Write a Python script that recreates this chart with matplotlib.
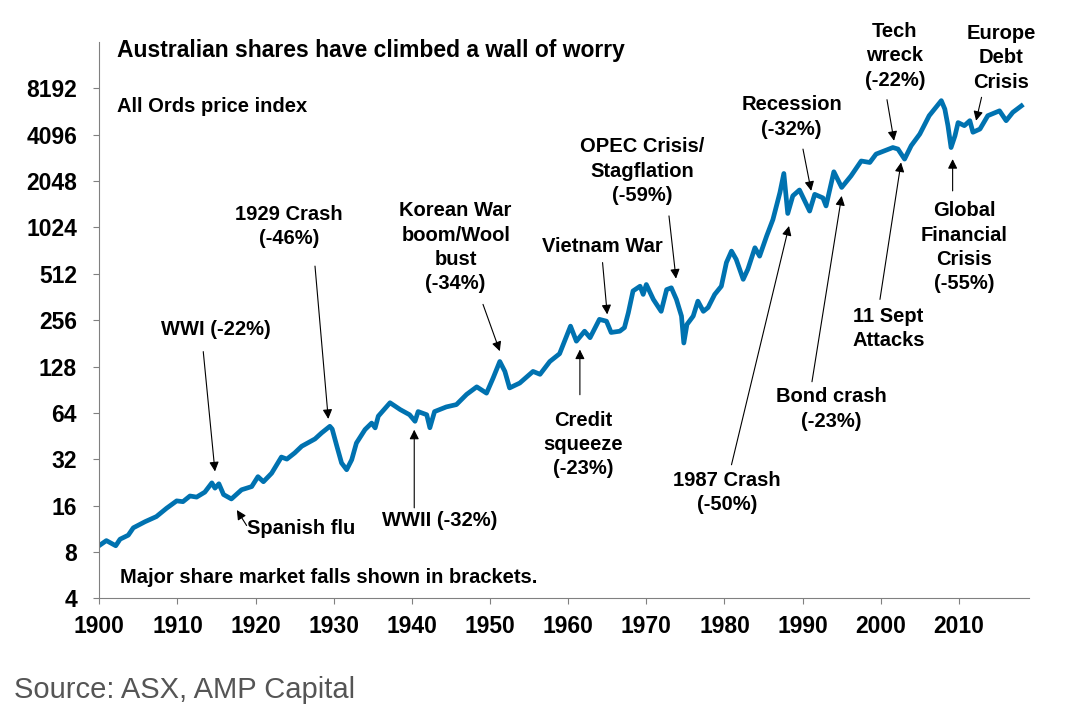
import matplotlib.pyplot as plt
import matplotlib.ticker as mticker

plt.rcParams['font.family'] = ['Liberation Sans', 'DejaVu Sans']
plt.rcParams['font.weight'] = 'bold'

# All Ords price index (year, index level)
years = [1900.1, 1900.9, 1902.1, 1902.65, 1903.7, 1904.35, 1905.85, 1907.3, 1908.6, 1909.9,
         1910.7, 1911.6, 1912.45, 1913.5, 1914.4, 1914.8, 1915.3, 1915.9, 1916.9, 1918.2,
         1919.5, 1920.3, 1921.0, 1922.05, 1923.3, 1924.0, 1925.0, 1925.9, 1927.6, 1928.45,
         1929.5, 1929.8, 1930.4, 1931.0, 1931.65, 1932.3, 1932.9, 1934.0, 1934.85, 1935.3,
         1935.7, 1937.2, 1938.5, 1939.7, 1940.4, 1940.8, 1941.9, 1942.3, 1942.9, 1944.4,
         1945.7, 1947.0, 1948.3, 1949.55, 1950.4, 1951.25, 1951.9, 1952.5, 1953.8, 1955.5,
         1956.4, 1957.65, 1958.9, 1960.3, 1961.05, 1962.1, 1962.8,
         1964.0, 1964.9, 1965.5, 1966.6, 1967.2, 1967.7, 1968.3, 1969.2, 1969.6, 1970.0,
         1970.9, 1971.9, 1972.6, 1973.2, 1973.85, 1974.5, 1974.8, 1975.2, 1976.0, 1976.6,
         1977.3, 1977.9, 1978.75, 1979.6, 1980.25, 1980.9, 1981.5, 1982.4, 1983.0, 1983.9,
         1984.5, 1985.4, 1986.2,
         1987.1, 1987.6, 1988.1, 1988.75, 1989.6, 1990.9, 1991.55, 1992.6, 1993.0, 1994.0,
         1995.0, 1996.2, 1997.5, 1998.6, 1999.4, 2000.5, 2001.55, 2002.2, 2003.05, 2003.9,
         2005.0, 2006.2, 2007.75, 2008.2, 2008.6, 2009.0, 2009.5, 2009.9, 2010.7, 2011.4,
         2011.8, 2012.7, 2013.7, 2015.2, 2016.05, 2016.9, 2018.0]
index = [8.9, 9.5, 8.8, 9.7, 10.3, 11.5, 12.6, 13.6, 15.4, 17.2,
         17.0, 18.5, 18.2, 19.6, 22.5, 20.8, 22.2, 18.9, 17.7, 20.3,
         21.3, 24.7, 22.9, 26.0, 33.1, 32.1, 35.2, 38.9, 43.4, 47.5,
         52.4, 50.3, 38.9, 30.3, 27.4, 31.8, 40.8, 49.9, 55.0, 51.2,
         61, 74.5, 67.3, 62.3, 56.5, 65.3, 62.3, 51.3, 65.3, 70,
         72.5, 84.4, 94.5, 86, 108, 138, 119, 93, 100, 119,
         114, 138, 155, 234, 187, 217, 197,
         259, 252, 213, 217, 229, 286, 396, 425, 376, 436,
         349, 292, 404, 415, 349, 272, 182, 240, 272, 340,
         292, 309, 376, 425, 605, 718, 635, 471, 549, 755,
         666, 900, 1150,
         1724, 2290, 1260, 1640, 1790, 1306, 1677, 1590, 1410, 2350,
         1860, 2210, 2760, 2700, 3060, 3215, 3375, 3300, 2840, 3470,
         4130, 5430, 6800, 6000, 4680, 3375, 4020, 4900, 4680, 5040,
         4240, 4450, 5430, 5840, 5040, 5710, 6290]

yticks = [4, 8, 16, 32, 64, 128, 256, 512, 1024, 2048, 4096, 8192]
xticks = list(range(1900, 2011, 10))

# label text, text position (year, level), arrow tail, arrow tip
events = [
    ("WWI (-22%)", (1914.9, 222), (1913.3, 160), (1914.8, 26.7)),
    ("1929 Crash\n(-46%)", (1924.3, 1041), (1927.6, 574), (1929.3, 58.5)),
    ("WWII (-32%)", (1943.6, 12.9), (1940.3, 15.5), (1940.3, 49.8)),
    ("Korean War\nboom/Wool\nbust\n(-34%)", (1945.6, 760), (1949.1, 324), (1951.25, 161)),
    ("Credit\nsqueeze\n(-23%)", (1961.9, 39.8), (1961.5, 84), (1961.5, 165)),
    ("Vietnam War", (1964.4, 772), (1964.4, 605), (1965.0, 279)),
    ("OPEC Crisis/\nStagflation\n(-59%)", (1969.5, 2372), (1972.9, 1215), (1973.8, 476)),
    ("1987 Crash\n(-50%)", (1980.3, 19.4), (1980.9, 29.5), (1988.26, 1045)),
    ("Recession\n(-32%)", (1988.6, 5323), (1990.05, 3297), (1991.1, 1766)),
    ("Bond crash\n(-23%)", (1993.7, 67.8), (1991.2, 102), (1995.0, 1638)),
    ("Tech\nwreck\n(-22%)", (2001.8, 13260), (2000.8, 6898), (2001.7, 3733)),
    ("11 Sept\nAttacks", (2001.0, 226), (1999.9, 349), (2002.6, 2702)),
    ("Global\nFinancial\nCrisis\n(-55%)", (2010.7, 760), (2009.2, 1766), (2009.2, 2839)),
    ("Europe\nDebt\nCrisis", (2015.4, 12870), (2012.9, 7146), (2012.2, 5036)),
]

fig = plt.figure(figsize=(10.75, 7.23), dpi=100)
ax = fig.add_axes([0.0924, 0.1722, 0.865, 0.770])

ax.plot(years, index, color='#0072B0', lw=3.4, solid_joinstyle='round')

ax.set_yscale('log', base=2)
ax.set_ylim(4, 16384)
ax.set_xlim(1900, 2019)
ax.set_yticks(yticks)
ax.yaxis.set_major_formatter(mticker.FuncFormatter(lambda v, p: '%d' % v))
ax.yaxis.set_minor_locator(mticker.NullLocator())
ax.set_xticks(xticks)

for s in ['top', 'right']:
    ax.spines[s].set_visible(False)
for s in ['left', 'bottom']:
    ax.spines[s].set_color('#808080')
ax.tick_params(axis='both', direction='out', length=4, color='#808080',
               labelsize=16.5, pad=8)
ax.tick_params(axis='y', pad=12)
for lab in ax.get_xticklabels() + ax.get_yticklabels():
    lab.set_fontweight('bold')

for label, txy, tail, tip in events:
    ax.text(txy[0], txy[1], label, ha='center', va='center', fontsize=14.5,
            fontweight='bold', linespacing=1.35)
    ax.annotate('', xy=tip, xytext=tail,
                arrowprops=dict(arrowstyle='-|>', color='black', lw=0.8,
                                mutation_scale=14, shrinkA=0, shrinkB=0))

ax.text(1918.95, 11.4, "Spanish flu", ha='left', va='center', fontsize=14.5, fontweight='bold')
ax.annotate('', xy=(1917.6, 15.0), xytext=(1918.85, 11.9),
            arrowprops=dict(arrowstyle='-|>', color='black', lw=0.8,
                            mutation_scale=14, shrinkA=0, shrinkB=0))

ax.text(0.019, 0.985, "Australian shares have climbed a wall of worry", transform=ax.transAxes,
        ha='left', va='center', fontsize=16.5, fontweight='bold')
ax.text(0.019, 0.8845, "All Ords price index", transform=ax.transAxes,
        ha='left', va='center', fontsize=14.5, fontweight='bold')
ax.text(0.022, 0.0386, "Major share market falls shown in brackets.", transform=ax.transAxes,
        ha='left', va='center', fontsize=14.5, fontweight='bold')

fig.text(0.013, 0.0456, "Source: ASX, AMP Capital", ha='left', va='center',
         fontsize=21, fontweight='normal', color='#555555')

fig.savefig('out.png', dpi=100)
